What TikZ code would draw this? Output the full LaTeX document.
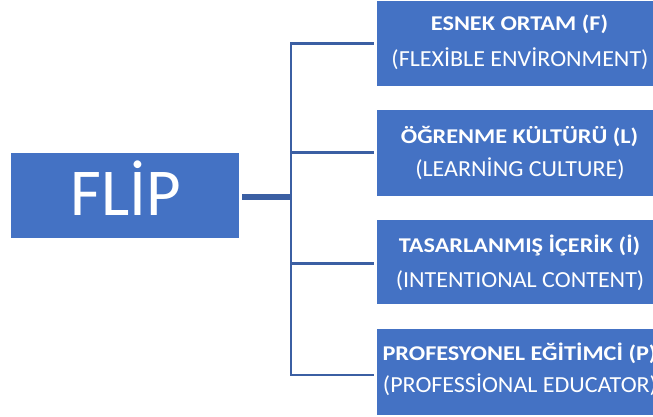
\documentclass[tikz,border=0pt]{standalone}
\usepackage{fontspec}
\setmainfont{Carlito}
\definecolor{boxblue}{HTML}{4472C4}
\definecolor{linkblue}{HTML}{3B5FA3}
\newcommand{\headstretch}[1]{\scalebox{1.155}[1]{#1}}
\newcommand{\substretch}[1]{\scalebox{1.045}[1]{#1}}
\tikzset{
  boxshape/.style={fill=boxblue, draw=none, anchor=north west, inner sep=0pt},
  headtext/.style={text=white, anchor=base, inner sep=0pt, font=\bfseries\fontsize{21}{25}\selectfont},
  subtext/.style={text=white, anchor=base, inner sep=0pt, font=\fontsize{23}{27}\selectfont},
  conn/.style={draw=linkblue, line width=2.5pt},
  stub/.style={draw=linkblue, line width=6pt}
}
\begin{document}
\begin{tikzpicture}[x=1pt,y=-1pt]
\useasboundingbox (0,0) rectangle (653,417);
\clip (0,0) rectangle (653,417);
% FLIP box
\node[boxshape, minimum width=228pt, minimum height=85pt] (f) at (11,153) {};
\node[text=white, anchor=base, inner sep=0pt, font=\fontsize{67}{70}\selectfont] (ft) at (126,215) {FLİP};
% right boxes
\node[boxshape, minimum width=286pt, minimum height=85pt] (b1) at (377,1) {};
\node[boxshape, minimum width=286pt, minimum height=86pt] (b2) at (377,110) {};
\node[boxshape, minimum width=286pt, minimum height=84pt] (b3) at (377,220) {};
\node[boxshape, minimum width=286pt, minimum height=86pt] (b4) at (377,329) {};
% texts
\node[headtext] (h1) at (519.5,31) {\headstretch{ESNEK ORTAM (F)}};
\node[subtext]  (s1) at (520,66.5) {\substretch{(FLEXİBLE ENVİRONMENT)}};
\node[headtext] (h2) at (519.5,143) {\headstretch{ÖĞRENME KÜLTÜRÜ (L)}};
\node[subtext]  (s2) at (520,176) {\substretch{(LEARNİNG CULTURE)}};
\node[headtext] (h3) at (519.5,252) {\headstretch{TASARLANMIŞ İÇERİK (İ)}};
\node[subtext]  (s3) at (520,287) {\substretch{(INTENTIONAL CONTENT)}};
\node[headtext] (h4) at (519.5,360) {\headstretch{PROFESYONEL EĞİTİMCİ (P)}};
\node[subtext]  (s4) at (520,392) {\substretch{(PROFESSİONAL EDUCATOR)}};
% junctions
\coordinate (j1) at (291,43.3);
\coordinate (j2) at (291,152.7);
\coordinate (j3) at (291,263.7);
\coordinate (j4) at (291,375);
\coordinate (js) at (291,196.7);
% connectors
\draw[conn, line cap=rect] (j1) -- (j4);
\draw[conn] (j1) -- ([xshift=-3pt]b1.west |- j1);
\draw[conn] (j2) -- ([xshift=-3pt]b2.west |- j2);
\draw[conn] (j3) -- ([xshift=-3pt]b3.west |- j3);
\draw[conn] (j4) -- ([xshift=-3pt]b4.west |- j4);
\draw[stub] ([xshift=3pt]f.east |- js) -- (js);
\end{tikzpicture}
\end{document}
